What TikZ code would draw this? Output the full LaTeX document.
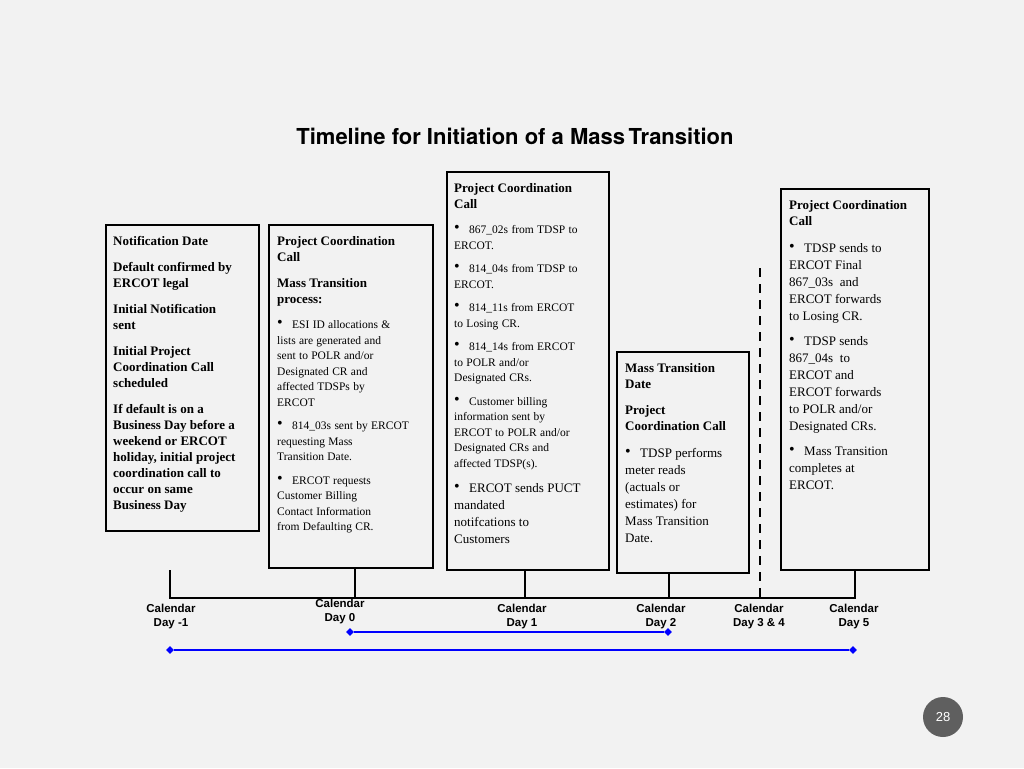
\documentclass[tikz,border=0pt]{standalone}
\usepackage{fontspec}
\usetikzlibrary{shapes.geometric}
\setmainfont{Liberation Serif}
\newfontfamily\arl{Liberation Sans}
\newfontfamily\ttl{TeX Gyre Heros}
\definecolor{bg}{HTML}{F2F2F2}
\definecolor{pg}{HTML}{5F5F5F}
\newcommand\bitem[2][11.5]{\par\fontsize{#1}{\dimexpr#1pt+4pt\relax}\selectfont\hangindent=15pt\hangafter=1\noindent\makebox[15pt][l]{\raisebox{1pt}{\fontsize{16}{16}\selectfont\textbullet}}#2\par\vspace{8pt}}
\newcommand\hd[1]{\par\fontsize{13}{16}\selectfont\noindent\textbf{#1}\par\vspace{10pt}}
\begin{document}
\begin{tikzpicture}[x=1pt,y=-1pt,
  box/.style={draw,line width=1.8pt,anchor=north west,inner sep=0},
  txt/.style={anchor=north west,inner sep=0,align=left},
  cal/.style={font=\arl\bfseries\fontsize{11.5}{14}\selectfont,align=center},
  blu/.style={draw=blue,line width=2pt},
  dia/.style={fill=blue,diamond,inner sep=0,minimum size=8pt}]
\useasboundingbox[fill=bg] (0,0) rectangle (1024,768);
\node[font=\ttl\bfseries\fontsize{22}{26}\selectfont] (title) at (515,136) {Timeline for Initiation of a Mass\,Transition};
% boxes
\node[box,minimum width=153,minimum height=306] (b1) at (105,224) {};
\node[box,minimum width=164,minimum height=343] (b2) at (268,224) {};
\node[box,minimum width=162,minimum height=398] (b3) at (446,171) {};
\node[box,minimum width=132,minimum height=221] (b4) at (616,351) {};
\node[box,minimum width=148,minimum height=381] (b5) at (780,188) {};
% texts
\node[txt,text width=142] (t1) at (113,229) {%
\hd{Notification Date}\hd{Default confirmed by\\ERCOT legal}\hd{Initial Notification\\sent}\hd{Initial Project\\Coordination Call\\scheduled}\hd{If default is on a\\Business Day before a\\weekend or ERCOT\\holiday, initial project\\coordination call to\\occur on same\\Business Day}};
\node[txt,text width=155] (t2) at (277,229) {%
\hd{Project Coordination\\Call}\hd{Mass Transition\\process:}
\bitem{ESI ID allocations \&\\lists are generated and\\sent to POLR and/or\\Designated CR and\\affected TDSPs by\\ERCOT}
\bitem{814\_03s sent by ERCOT\\requesting Mass\\Transition Date.}
\bitem{ERCOT requests\\Customer Billing\\Contact Information\\from Defaulting CR.}};
\node[txt,text width=155] (t3) at (454,176) {%
\hd{Project Coordination\\Call}
\bitem{867\_02s from TDSP to\\ERCOT.}
\bitem{814\_04s from TDSP to\\ERCOT.}
\bitem{814\_11s from ERCOT\\to Losing CR.}
\bitem{814\_14s from ERCOT\\to POLR and/or\\Designated CRs.}
\bitem{Customer billing\\information sent by\\ERCOT to POLR and/or\\Designated CRs and\\affected TDSP(s).}
\bitem[13]{ERCOT sends PUCT\\mandated\\notifcations to\\Customers}};
\node[txt,text width=128] (t4) at (625,356) {%
\hd{Mass Transition\\Date}\hd{Project\\Coordination Call}
\bitem[13]{TDSP performs\\meter reads\\(actuals or\\estimates) for\\Mass Transition\\Date.}};
\node[txt,text width=142] (t5) at (789,193) {%
\hd{Project Coordination\\Call}
\bitem[13]{TDSP sends to\\ERCOT Final\\867\_03s\ \ and\\ERCOT forwards\\to Losing CR.}
\bitem[13]{TDSP sends\\867\_04s\ \ to\\ERCOT and\\ERCOT forwards\\to POLR and/or\\Designated CRs.}
\bitem[13]{Mass Transition\\completes at\\ERCOT.}};
% timeline
\coordinate (l) at (170,598); \coordinate (r) at (855,598);
\coordinate (s1) at (170,570);
\draw[line width=1.8pt] (s1) -- (l) -- (r) -- (b5.south -| r);
\draw[line width=1.8pt] ([xshift=4pt]b2.south) -- ([xshift=4pt]b2.south |- l);
\draw[line width=1.8pt] ([xshift=-3pt]b3.south) -- ([xshift=-3pt]b3.south |- l);
\draw[line width=1.8pt] ([xshift=-14pt]b4.south) -- ([xshift=-14pt]b4.south |- l);
\coordinate (dt) at (760,268); \coordinate (db) at (760,598);
\draw[line width=2.4pt,dash pattern=on 9pt off 7pt] (dt) -- (db);
% labels
\node[cal] (c1) at (171,617) {Calendar\\Day -1};
\node[cal] (c2) at (340,612) {Calendar\\Day 0};
\node[cal] (c3) at (522,617) {Calendar\\Day 1};
\node[cal] (c4) at (661,617) {Calendar\\Day 2};
\node[cal] (c5) at (759,617) {Calendar\\Day 3 \& 4};
\node[cal] (c6) at (854,617) {Calendar\\Day 5};
\node[dia] (d1) at (350,632) {}; \node[dia] (d2) at (668,632) {};
\node[dia] (d3) at (170,650) {}; \node[dia] (d4) at (853,650) {};
\draw[blu] (d1) -- (d2); \draw[blu] (d3) -- (d4);
\node[circle,fill=pg,minimum size=40pt,text=white,font=\arl\fontsize{13}{13}\selectfont] (pn) at (943,717) {28};
\end{tikzpicture}
\end{document}
